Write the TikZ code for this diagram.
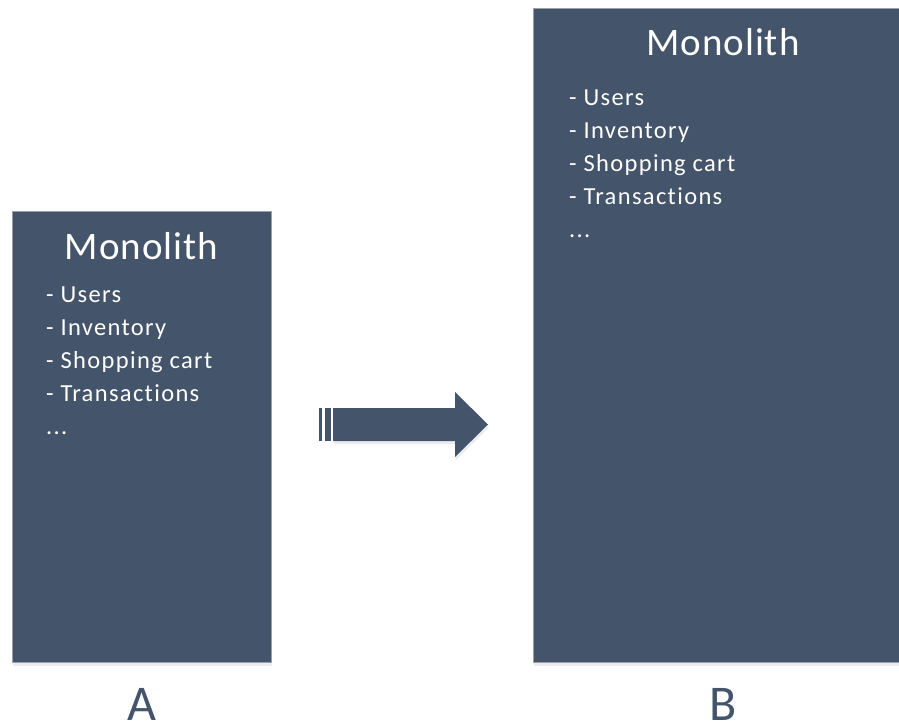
\documentclass[tikz,border=0pt]{standalone}
\usepackage{fontspec}
\setmainfont{Carlito}[Ligatures={NoCommon}]
\newfontfamily\itemfont{Carlito}[Ligatures={NoCommon},LetterSpace=5.5]
\newfontfamily\titlefont{Carlito}[Ligatures={NoCommon},LetterSpace=2.5]
\usetikzlibrary{shadows}
\definecolor{slate}{HTML}{44546A}
\definecolor{edge}{HTML}{9AA0A8}
\tikzset{
  mono/.style={draw=edge, line width=1pt, fill=slate, drop shadow={shadow xshift=1pt, shadow yshift=-4pt, opacity=0.18, fill=slate!60}},
  title/.style={text=white, anchor=base, inner sep=0pt, font=\titlefont\fontsize{39}{46}\selectfont},
  item/.style={text=white, anchor=base west, inner sep=0pt, font=\itemfont\fontsize{24.5}{30}\selectfont},
  lab/.style={text=slate, anchor=base, inner sep=0pt, font=\fontsize{50}{60}\selectfont},
  arr/.style={fill=slate, draw=none, drop shadow={shadow xshift=1pt, shadow yshift=-3pt, opacity=0.18, fill=slate!60}}
}
\begin{document}
\begin{tikzpicture}[x=1pt,y=-1pt]
\useasboundingbox (0,0) rectangle (899,727);
% Box A
\path[mono] (12,212) rectangle (271,662);
\node (ta) at (141.5,259) [title] {Monolith};
\node (a1) at (46,302) [item] {- Users};
\node (a2) at (46,335) [item] {- Inventory};
\node (a3) at (46,368) [item] {- Shopping cart};
\node (a4) at (46,401) [item] {- Transactions};
\node (a5) at (46,434) [item] {...};
% Box B
\path[mono] (533,9) rectangle (905,662);
\node (tb) at (723,56) [title] {Monolith};
\node (b1) at (569,106) [item] {- Users};
\node (b2) at (569,139) [item] {- Inventory};
\node (b3) at (569,172) [item] {- Shopping cart};
\node (b4) at (569,205) [item] {- Transactions};
\node (b5) at (569,238) [item] {...};
% Arrow
\fill[slate] (319,408) rectangle (322,441);
\fill[slate] (324.5,408) rectangle (330.5,441);
\path[arr] (333,408) -- (455,408) -- (455,392) -- (488,424.5) -- (455,457) -- (455,441) -- (333,441) -- cycle;
% Labels
\node (la) at (141.5,720) [lab] {A};
\node (lb) at (723,720) [lab] {B};
\end{tikzpicture}
\end{document}
